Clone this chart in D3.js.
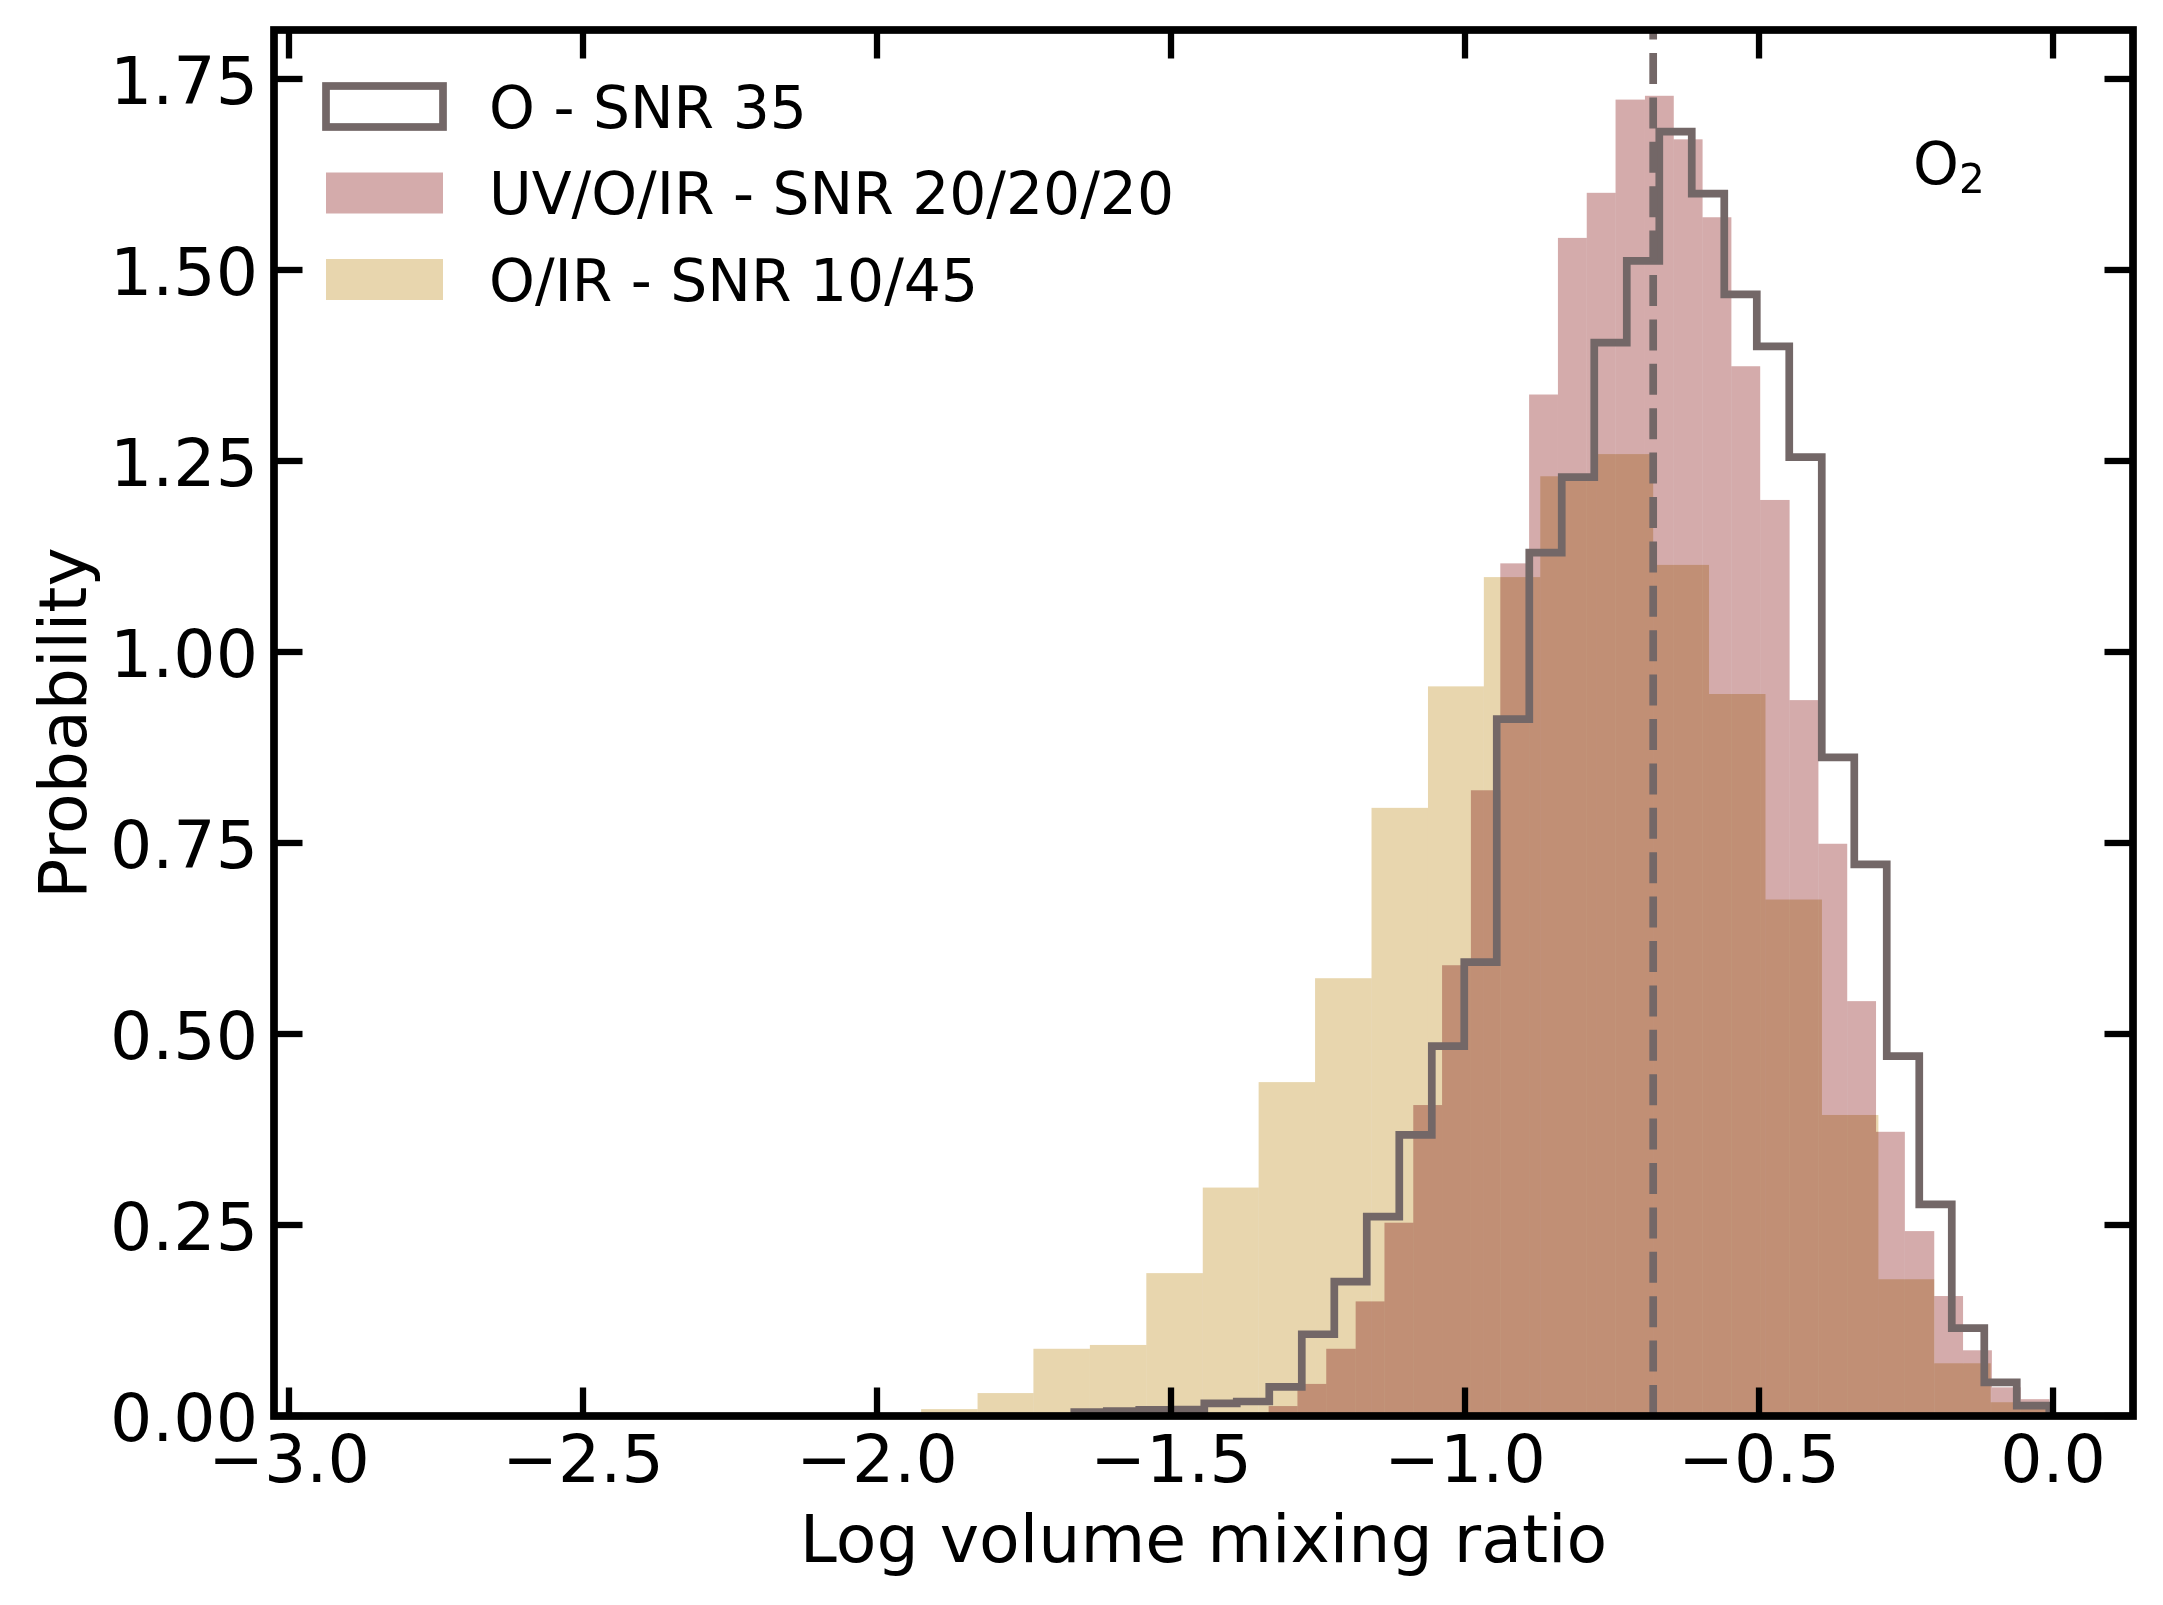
<!DOCTYPE html>
<html>
<head>
<meta charset="utf-8">
<script src="https://cdn.jsdelivr.net/npm/d3@7"></script>
<style>
  html, body { margin: 0; padding: 0; background: #ffffff; }
  svg { display: block; }
  text { font-family: "DejaVu Sans", sans-serif; fill: #000; }
</style>
</head>
<body>
<script>
// ---------------- data ----------------
const xTicks = [-3.0, -2.5, -2.0, -1.5, -1.0, -0.5, 0.0];
const yTicks = [0.00, 0.25, 0.50, 0.75, 1.00, 1.25, 1.50, 1.75];

// O - SNR 35 (step outline), 30 bins
const oEdges = [-1.6645, -1.6092, -1.5540, -1.4987, -1.4434, -1.3882, -1.3329, -1.2776, -1.2223, -1.1671,
                -1.1118, -1.0565, -1.0013, -0.9460, -0.8907, -0.8355, -0.7802, -0.7249, -0.6696, -0.6144,
                -0.5591, -0.5038, -0.4486, -0.3933, -0.3380, -0.2828, -0.2275, -0.1722, -0.1169, -0.0617, -0.0064];
const oValues = [0.005, 0.0065, 0.008, 0.0085, 0.0165, 0.019, 0.038, 0.107, 0.176, 0.261,
                 0.368, 0.484, 0.594, 0.912, 1.130, 1.229, 1.405, 1.512, 1.681, 1.600,
                 1.468, 1.400, 1.255, 0.862, 0.722, 0.471, 0.277, 0.115, 0.044, 0.0135];

// UV/O/IR - SNR 20/20/20, 27 bins
const uvEdges = [-1.334, -1.285, -1.236, -1.186, -1.137, -1.088, -1.039, -0.990, -0.940, -0.891,
                 -0.842, -0.793, -0.744, -0.694, -0.645, -0.596, -0.547, -0.498, -0.448, -0.399,
                 -0.350, -0.301, -0.252, -0.202, -0.153, -0.104, -0.055, -0.006];
const uvValues = [0.013, 0.042, 0.088, 0.150, 0.253, 0.407, 0.590, 0.819, 1.116, 1.337,
                  1.542, 1.601, 1.723, 1.728, 1.671, 1.569, 1.374, 1.199, 0.937, 0.749,
                  0.543, 0.372, 0.242, 0.157, 0.086, 0.0375, 0.022];

// O/IR - SNR 10/45, 20 bins
const irEdges = [-1.925, -1.829, -1.734, -1.638, -1.542, -1.446, -1.351, -1.255, -1.159, -1.063,
                 -0.968, -0.872, -0.776, -0.680, -0.585, -0.489, -0.393, -0.297, -0.202, -0.106, -0.010];
const irValues = [0.009, 0.030, 0.088, 0.093, 0.187, 0.299, 0.437, 0.573, 0.796, 0.955,
                  1.098, 1.230, 1.259, 1.114, 0.945, 0.676, 0.394, 0.179, 0.069, 0.018];

const trueValue = -0.68;

const legendLabels = ["O - SNR 35", "UV/O/IR - SNR 20/20/20", "O/IR - SNR 10/45"];
const xLabel = "Log volume mixing ratio";
const yLabel = "Probability";

// ---------------- styling / layout ----------------
const W = 2163, H = 1605;
const box = { left: 274, right: 2133, top: 30, bottom: 1416 };
const colOutline = "#736767";
const colPink = "#d4abab";
const colYellow = "#e8d6ae";
const lw = 7.7;
const fsAxis = 66.5, fsLegend = 58.3;

const svg = d3.select("body").append("svg")
  .attr("width", W).attr("height", H)
  .attr("viewBox", `0 0 ${W} ${H}`);
svg.append("rect").attr("width", W).attr("height", H).attr("fill", "#ffffff");

const x = d3.scaleLinear().domain([-3.0255, 0.136]).range([box.left, box.right]);
const y = d3.scaleLinear().domain([0, 1.8141]).range([box.bottom, box.top]);

svg.append("defs").append("clipPath").attr("id", "plotclip")
  .append("rect")
  .attr("x", box.left).attr("y", box.top)
  .attr("width", box.right - box.left).attr("height", box.bottom - box.top);

const plot = svg.append("g").attr("clip-path", "url(#plotclip)");

function bars(edges, values, color) {
  const g = plot.append("g");
  g.selectAll("rect").data(values).join("rect")
    .attr("x", (d, i) => x(edges[i]))
    .attr("width", (d, i) => x(edges[i + 1]) - x(edges[i]))
    .attr("y", d => y(d))
    .attr("height", d => y(0) - y(d))
    .attr("fill", color)
    .style("mix-blend-mode", "multiply");
}
bars(irEdges, irValues, colYellow);
bars(uvEdges, uvValues, colPink);

// step outline
const pts = [[oEdges[0], 0]];
oValues.forEach((v, i) => { pts.push([oEdges[i], v]); pts.push([oEdges[i + 1], v]); });
pts.push([oEdges[oEdges.length - 1], 0]);
plot.append("path")
  .attr("d", d3.line().x(d => x(d[0])).y(d => y(d[1]))(pts))
  .attr("fill", "none")
  .attr("stroke", colOutline)
  .attr("stroke-width", lw)
  .attr("stroke-linejoin", "miter")
  .attr("stroke-linecap", "butt");

// dashed true-value line
plot.append("line")
  .attr("x1", x(trueValue)).attr("x2", x(trueValue))
  .attr("y1", y(0)).attr("y2", box.top)
  .attr("stroke", colOutline)
  .attr("stroke-width", lw)
  .attr("stroke-dasharray", "31,13.4");

// ---------------- axes ----------------
const tickLen = 28.5, tickW = 6.3;
const fmtX = d3.format(".1f"), fmtY = d3.format(".2f");
const axes = svg.append("g");

axes.selectAll(".xtb").data(xTicks).join("line")
  .attr("x1", d => x(d)).attr("x2", d => x(d))
  .attr("y1", box.bottom).attr("y2", box.bottom - tickLen)
  .attr("stroke", "#000").attr("stroke-width", tickW);
axes.selectAll(".xtt").data(xTicks).join("line")
  .attr("x1", d => x(d)).attr("x2", d => x(d))
  .attr("y1", box.top).attr("y2", box.top + tickLen)
  .attr("stroke", "#000").attr("stroke-width", tickW);
axes.selectAll(".ytl").data(yTicks).join("line")
  .attr("x1", box.left).attr("x2", box.left + tickLen)
  .attr("y1", d => y(d)).attr("y2", d => y(d))
  .attr("stroke", "#000").attr("stroke-width", tickW);
axes.selectAll(".ytr").data(yTicks).join("line")
  .attr("x1", box.right).attr("x2", box.right - tickLen)
  .attr("y1", d => y(d)).attr("y2", d => y(d))
  .attr("stroke", "#000").attr("stroke-width", tickW);

// spines
svg.append("rect")
  .attr("x", box.left).attr("y", box.top)
  .attr("width", box.right - box.left).attr("height", box.bottom - box.top)
  .attr("fill", "none").attr("stroke", "#000").attr("stroke-width", lw);

// tick labels
svg.append("g").selectAll("text").data(xTicks).join("text")
  .attr("x", d => x(d)).attr("y", 1482)
  .attr("text-anchor", "middle")
  .style("font-size", fsAxis + "px")
  .text(d => fmtX(d));
svg.append("g").selectAll("text").data(yTicks).join("text")
  .attr("x", 258).attr("y", d => y(d) + 25)
  .attr("text-anchor", "end")
  .style("font-size", fsAxis + "px")
  .text(d => fmtY(d));

// axis labels
svg.append("text")
  .attr("x", (box.left + box.right) / 2).attr("y", 1562)
  .attr("text-anchor", "middle")
  .style("font-size", fsAxis + "px")
  .text(xLabel);
svg.append("text")
  .attr("transform", `translate(86, ${(box.top + box.bottom) / 2}) rotate(-90)`)
  .attr("text-anchor", "middle")
  .style("font-size", fsAxis + "px")
  .text(yLabel);

// species label O2
const o2 = svg.append("text").attr("x", 1913).attr("y", 184).style("font-size", fsLegend + "px");
o2.append("tspan").text("O");
o2.append("tspan").attr("dy", 9).style("font-size", "40.5px").text("2");

// ---------------- legend ----------------
const legRows = [106.5, 193, 279.5];
const leg = svg.append("g");
leg.append("rect")
  .attr("x", 326).attr("y", legRows[0] - 20.5).attr("width", 117).attr("height", 41)
  .attr("fill", "none").attr("stroke", colOutline).attr("stroke-width", lw);
leg.append("rect")
  .attr("x", 326).attr("y", legRows[1] - 20.5).attr("width", 117).attr("height", 41)
  .attr("fill", colPink);
leg.append("rect")
  .attr("x", 326).attr("y", legRows[2] - 20.5).attr("width", 117).attr("height", 41)
  .attr("fill", colYellow);
leg.selectAll("text").data(legendLabels).join("text")
  .attr("x", 489).attr("y", (d, i) => legRows[i] + 21)
  .style("font-size", fsLegend + "px")
  .text(d => d);
</script>
</body>
</html>
